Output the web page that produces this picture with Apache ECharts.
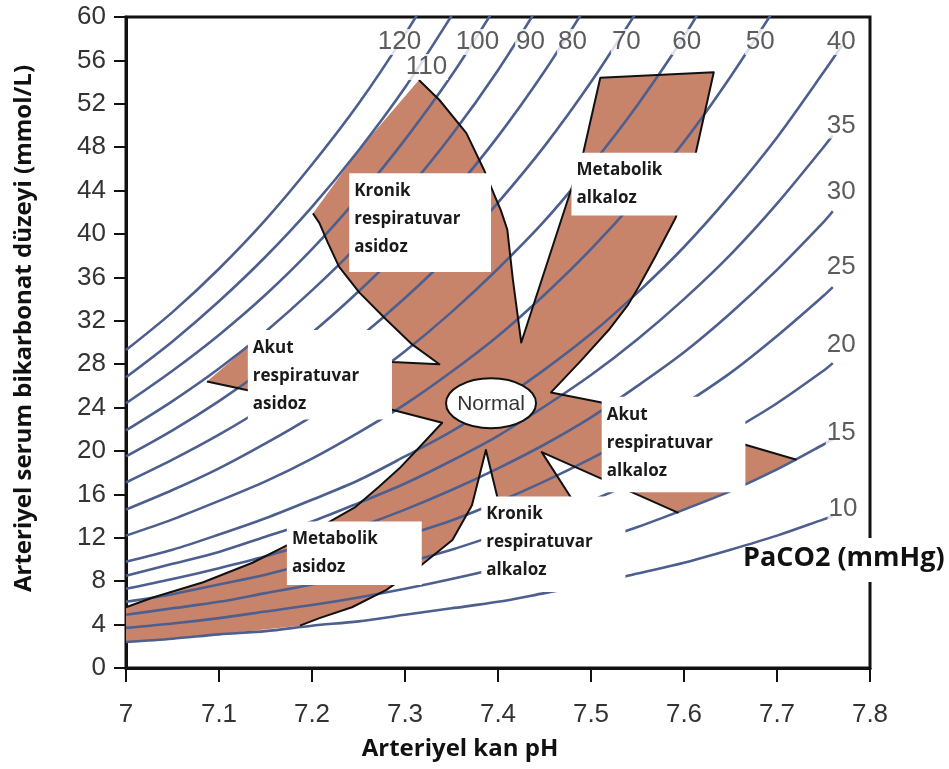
<!DOCTYPE html>
<html>
<head>
<meta charset="utf-8">
<script src="https://cdn.jsdelivr.net/npm/echarts@6/dist/echarts.min.js"></script>
<style>
html, body { margin: 0; padding: 0; background: #fff; }
#chart { width: 949px; height: 769px; }
</style>
</head>
<body>
<div id="chart"></div>
<script>
// pH noktalari (0.05 aralikla) ve her PaCO2 isobarinin HCO3 degerleri
var phSteps = [7.00,7.05,7.10,7.15,7.20,7.25,7.30,7.35,7.40,7.45,7.50,7.55,7.60,7.65,7.70,7.75];
var hco3_120 = [29.3,32.8,36.8,41.3,46.4,52.0,58.4,65.5];
var hco3_110 = [26.8,30.1,33.8,37.9,42.5,47.7,53.5,60.1];
var hco3_100 = [24.4,27.4,30.7,34.4,38.6,43.4,48.7,54.6,61.3];
var hco3_90 = [21.9,24.6,27.6,31.0,34.8,39.0,43.8,49.1,55.1,61.9];
var hco3_80 = [19.5,21.9,24.6,27.6,30.9,34.7,38.9,43.7,49.0,55.0,61.7];
var hco3_70 = [17.1,19.2,21.5,24.1,27.1,30.4,34.1,38.2,42.9,48.1,54.0,60.6];
var hco3_60 = [14.6,16.4,18.4,20.7,23.2,26.0,29.2,32.8,36.8,41.2,46.3,51.9,58.2,65.4];
var hco3_50 = [12.2,13.7,15.4,17.2,19.3,21.7,24.3,27.3,30.6,34.4,38.6,43.3,48.5,54.5,61.1];
var hco3_40 = [9.8,10.9,12.3,13.8,15.5,17.3,19.5,21.8,24.5,27.5,30.8,34.6,38.8,43.6,48.9,54.9];
var hco3_35 = [8.5,9.6,10.7,12.1,13.5,15.2,17.0,19.1,21.4,24.1,27.0,30.3,34.0,38.1,42.8,48.0];
var hco3_30 = [7.3,8.2,9.2,10.3,11.6,13.0,14.6,16.4,18.4,20.6,23.1,26.0,29.1,32.7,36.7,41.1];
var hco3_25 = [6.1,6.8,7.7,8.6,9.7,10.8,12.2,13.6,15.3,17.2,19.3,21.6,24.3,27.2,30.6,34.3];
var hco3_20 = [4.9,5.5,6.1,6.9,7.7,8.7,9.7,10.9,12.3,13.7,15.4,17.3,19.4,21.8,24.4,27.4];
var hco3_15 = [3.7,4.1,4.6,5.2,5.8,6.5,7.3,8.2,9.2,10.3,11.6,13.0,14.6,16.3,18.3,20.6];
var hco3_10 = [2.4,2.7,3.1,3.4,3.9,4.3,4.9,5.5,6.1,6.9,7.7,8.7,9.7,10.9,12.2,13.7];
// sag taraftaki cizgilerin bittigi son nokta (etiketin yaninda)
var isoEnd = [null,null,null,null,null,null,null,null,[7.77,57.4],[7.76,49.1],[7.76,42.1],[7.76,35.1],[7.76,28.1],[7.76,21.1],[7.76,14.0]];
var isoHco3 = [hco3_120,hco3_110,hco3_100,hco3_90,hco3_80,hco3_70,hco3_60,hco3_50,hco3_40,hco3_35,hco3_30,hco3_25,hco3_20,hco3_15,hco3_10];

// isobar etiketleri
var isoLabelText = ['120','110','100','90','80','70','60','50','40','35','30','25','20','15','10'];
var isoLabelPos = [[7.294,57.7],[7.323,55.4],[7.378,57.7],[7.435,57.7],[7.480,57.7],[7.538,57.7],[7.603,57.7],[7.682,57.7],[7.769,57.7],
                   [7.769,50.0],[7.769,43.9],[7.769,37.0],[7.769,29.8],[7.769,21.7],[7.771,14.7]];

// bozukluk bolgesi (kahverengi alan) sinirlari
var regionOutline = [
  [7.315,54.2],[7.337,52.35],[7.366,49.3],[7.385,45.9],[7.396,43.6],[7.403,42.2],[7.410,40.4],[7.416,35.8],[7.425,30.0],
  [7.492,47.6],[7.510,54.4],[7.632,54.9],[7.613,47.6],[7.591,41.5],[7.569,37.9],[7.551,35.1],[7.540,33.5],[7.519,31.15],
  [7.490,28.4],[7.457,25.4],[7.510,24.5],[7.721,19.2],[7.70,18.3],[7.65,16.3],[7.594,14.3],[7.447,19.9],[7.480,15.5],
  [7.400,15.5],[7.387,20.1],[7.372,15.0],[7.351,11.8],[7.315,9.3],[7.280,7.2],[7.243,5.6],[7.208,4.6],[7.187,3.9],
  [7.1,3.1],[7.0,2.4],[7.0,5.6],[7.029,6.5],[7.083,7.9],[7.136,9.7],[7.173,11.3],[7.213,13.2],[7.246,14.8],[7.272,16.7],
  [7.294,18.4],[7.315,20.3],[7.340,22.6],[7.286,23.8],[7.131,25.6],[7.087,26.4],[7.131,29.6],[7.286,28.2],[7.337,28.0],
  [7.308,29.8],[7.280,32.1],[7.251,34.6],[7.229,37.0],[7.217,39.2],[7.208,41.0],[7.201,41.9],[7.25,47.7]
];
// siyah cizgisi olmayan kenarlar (isobar / eksen boyunca)
var openEdges = [21, 22, 23, 26, 35, 36, 37, 51, 61, 62];

// etiket kutulari
var boxText = [
  'Kronik\nrespiratuvar\nasidoz',
  'Metabolik\nalkaloz',
  'Akut\nrespiratuvar\nasidoz',
  'Akut\nrespiratuvar\nalkaloz',
  'Metabolik\nasidoz',
  'Kronik\nrespiratuvar\nalkaloz'
];
var boxCorners = [
  [7.240,45.6,7.3925,36.5],
  [7.479,47.5,7.621,41.7],
  [7.131,31.15,7.286,22.9],
  [7.5115,25.0,7.666,16.2],
  [7.173,13.5,7.318,7.65],
  [7.382,15.8,7.537,7.0]
];
var normalCenter = [7.3925, 24.4];

var chart = echarts.init(document.getElementById('chart'));

function isoPoints(i) {
  var vals = isoHco3[i];
  var pts = vals.map(function (v, k) { return [phSteps[k], v]; });
  if (isoEnd[i]) {
    // son noktayi etiketin yanina kadar uzat
    pts = pts.filter(function (p) { return p[0] < isoEnd[i][0]; });
    pts.push(isoEnd[i]);
  }
  return pts;
}

function renderRegion(params, api) {
  var pts = regionOutline.map(function (p) { return api.coord(p); });
  return { type: 'polygon', shape: { points: pts }, style: { fill: '#c8846b' } };
}

function renderBorder(params, api) {
  var pts = regionOutline.map(function (p) { return api.coord(p); });
  var paths = [], cur = null;
  for (var i = 0; i < pts.length; i++) {
    if (openEdges.indexOf(i) >= 0) { cur = null; continue; }
    if (!cur) { cur = [pts[i]]; paths.push(cur); }
    cur.push(pts[(i + 1) % pts.length]);
  }
  return {
    type: 'group',
    children: paths.map(function (c) {
      return { type: 'polyline', shape: { points: c }, style: { stroke: '#111', lineWidth: 2, fill: null, lineJoin: 'round' } };
    })
  };
}

function renderBox(params, api) {
  var tl = api.coord([api.value(0), api.value(1)]);
  var br = api.coord([api.value(2), api.value(3)]);
  return {
    type: 'group',
    children: [
      { type: 'rect', shape: { x: tl[0], y: tl[1], width: br[0] - tl[0], height: br[1] - tl[1] }, style: { fill: '#fff' } },
      { type: 'text', x: tl[0] + 5, y: tl[1] + 4,
        style: { text: boxText[params.dataIndex], font: 'bold 17px "Open Sans"', fill: '#1a1a1a', lineHeight: 28, verticalAlign: 'top' } }
    ]
  };
}

function renderNormal(params, api) {
  var c = api.coord([api.value(0), api.value(1)]);
  return {
    type: 'group',
    children: [
      { type: 'ellipse', shape: { cx: c[0], cy: c[1], rx: 45, ry: 25 }, style: { fill: '#fff', stroke: '#111', lineWidth: 2 } },
      { type: 'text', x: c[0], y: c[1] + 1, style: { text: 'Normal', font: '21px "Liberation Sans"', fill: '#333', align: 'center', verticalAlign: 'middle' } }
    ]
  };
}

var series = [];
series.push({ type: 'custom', renderItem: renderRegion, data: [[7.4, 30]], z: 1, silent: true });
isoHco3.forEach(function (vals, i) {
  series.push({
    name: 'PaCO2 ' + isoLabelText[i],
    type: 'line',
    data: isoPoints(i),
    smooth: 0.3,
    showSymbol: false,
    clip: true,
    z: 2,
    silent: true,
    lineStyle: { color: '#4d5f8e', width: 2.6 }
  });
});
series.push({ type: 'custom', renderItem: renderBorder, data: [[7.4, 30]], z: 3, silent: true });
series.push({ type: 'custom', renderItem: renderBox, data: boxCorners, encode: { x: [0, 2], y: [1, 3] }, z: 4, silent: true });
series.push({ type: 'custom', renderItem: renderNormal, data: [normalCenter], z: 4, silent: true });
series.push({
  type: 'scatter',
  data: isoLabelPos,
  symbolSize: 0,
  z: 5,
  silent: true,
  label: {
    show: true,
    position: 'inside',
    formatter: function (p) { return isoLabelText[p.dataIndex]; },
    fontFamily: 'Liberation Sans',
    fontSize: 26,
    color: '#333',
    backgroundColor: '#fff',
    padding: [0, 1]
  }
});

chart.setOption({
  animation: false,
  grid: { left: 126, right: 79, top: 17, bottom: 101, show: true, borderColor: '#111', borderWidth: 3 },
  xAxis: {
    type: 'value',
    min: 7, max: 7.8, interval: 0.1,
    name: 'Arteriyel kan pH',
    nameLocation: 'middle',
    nameGap: 69,
    nameTextStyle: { fontFamily: 'Open Sans', fontWeight: 'bold', fontSize: 24, color: '#111', padding: [0, 76, 0, 0] },
    axisLine: { lineStyle: { color: '#111', width: 3 } },
    axisTick: { length: 14, lineStyle: { color: '#111', width: 2 } },
    axisLabel: {
      margin: 34, fontFamily: 'Liberation Sans', fontSize: 26, color: '#333',
      formatter: function (v) { return Math.abs(v - 7) < 1e-9 ? '7' : v.toFixed(1); }
    },
    splitLine: { show: false }
  },
  yAxis: {
    type: 'value',
    min: 0, max: 60, interval: 4,
    name: 'Arteriyel serum bikarbonat düzeyi (mmol/L)',
    nameLocation: 'middle',
    nameGap: 90,
    nameTextStyle: { fontFamily: 'Open Sans', fontWeight: 'bold', fontSize: 24, color: '#111', padding: [0, 0, 0, 28] },
    axisLine: { lineStyle: { color: '#111', width: 3 } },
    axisTick: { length: 12, lineStyle: { color: '#111', width: 2 } },
    axisLabel: { margin: 20, fontFamily: 'Liberation Sans', fontSize: 26, color: '#333' },
    splitLine: { show: false }
  },
  graphic: [
    { type: 'rect', shape: { x: 858, y: 538, width: 22, height: 44 }, style: { fill: '#fff' }, z: 100 },
    { type: 'text', x: 743, y: 545, style: { text: 'PaCO2 (mmHg)', font: 'bold 27px "Open Sans"', fill: '#111' }, z: 101 }
  ],
  series: series
});
</script>
</body>
</html>
